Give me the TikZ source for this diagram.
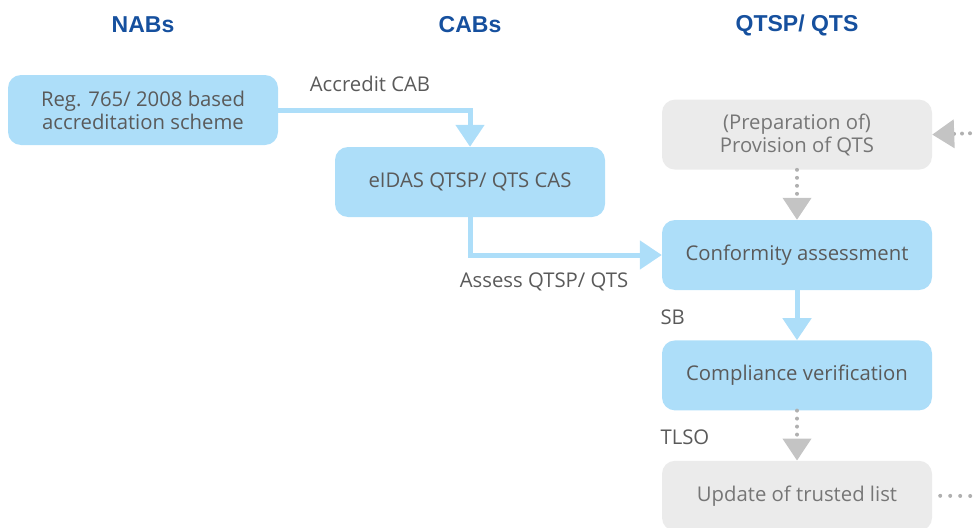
\documentclass[tikz,border=0pt]{standalone}
\usepackage{fontspec}
\setmainfont{Open Sans}
\newfontfamily\headfont{Liberation Sans}
\usepackage{tikz}
\usetikzlibrary{positioning, arrows.meta}

\definecolor{boxblue}{RGB}{173,222,249}
\definecolor{boxgray}{RGB}{235,235,235}
\definecolor{headblue}{RGB}{22,80,158}
\definecolor{textgray}{RGB}{90,90,90}
\definecolor{lightgray}{RGB}{118,118,118}
\definecolor{tipgray}{RGB}{196,196,196}

\begin{document}
\begin{tikzpicture}[x=1pt, y=-1pt, node distance=50pt,
bluenode/.style={rectangle, rounded corners=13pt, fill=boxblue, text=textgray, minimum width=270pt, minimum height=70pt, align=center, font=\fontsize{20.3}{23}\selectfont},
graynode/.style={bluenode, fill=boxgray, text=lightgray},
headnode/.style={text=headblue, font=\headfont\bfseries\fontsize{23}{26}\selectfont},
labelnode/.style={text=textgray, font=\fontsize{20.3}{23}\selectfont},
bluearrow/.style={draw=boxblue, line width=5pt, -{Triangle[width=28pt, length=22pt, fill=boxblue]}},
grayarrow/.style={draw=tipgray!90!black, line width=4pt, line cap=round, dash pattern=on 0pt off 8pt, -{Triangle[width=28pt, length=22pt, fill=tipgray, color=tipgray]}},
graydots/.style={draw=tipgray!90!black, line width=4pt, line cap=round, dash pattern=on 0pt off 10pt},
]
\useasboundingbox (0,0) rectangle (973,527);

%Nodes
\node[headnode]     (NAB)                          at (143,25)  {NABs};
\node[headnode]     (CAB)                          at (470,25)  {CABs};
\node[headnode]     (QTSP)                         at (797,25)  {QTSP/ QTS};
\node[bluenode]     (Reg)                          at (143,110) {Reg. 765/ 2008 based\\accreditation scheme};
\node[bluenode]     (eIDAS)                        at (470,182) {eIDAS QTSP/ QTS CAS};
\node[bluenode]     (Conformity)                   at (797,255) {Conformity assessment};
\node[graynode]     (Preparation) [above=of Conformity]         {(Preparation of)\\Provision of QTS};
\node[bluenode]     (Compliance)  [below=of Conformity]         {Compliance verification};
\node[graynode]     (Update)      [below=of Compliance]         {Update of trusted list};
\node[labelnode]    (Accredit)                     at (370,84)  {Accredit CAB};
\node[labelnode]    (Assess)                       at (544,282) {Assess QTSP/ QTS};
\node[labelnode, anchor=west] (SB)                 at (657,317) {SB};
\node[labelnode, anchor=west] (TLSO)               at (657,437) {TLSO};
\coordinate (In)  at (978,133);
\coordinate (Out) at (973,496);

%Lines
\draw[bluearrow] (Reg.east) -| (eIDAS.north);
\draw[bluearrow] (eIDAS.south) |- (Conformity.west);
\draw[bluearrow] (Conformity.south) -- (Compliance.north);
\draw[grayarrow] (Preparation.south) -- (Conformity.north);
\draw[grayarrow] (Compliance.south) -- (Update.north);
\draw[grayarrow] (In) -- (Preparation.east);
\draw[graydots] ([xshift=8pt]Update.east) -- (Out);

\end{tikzpicture}
\end{document}
